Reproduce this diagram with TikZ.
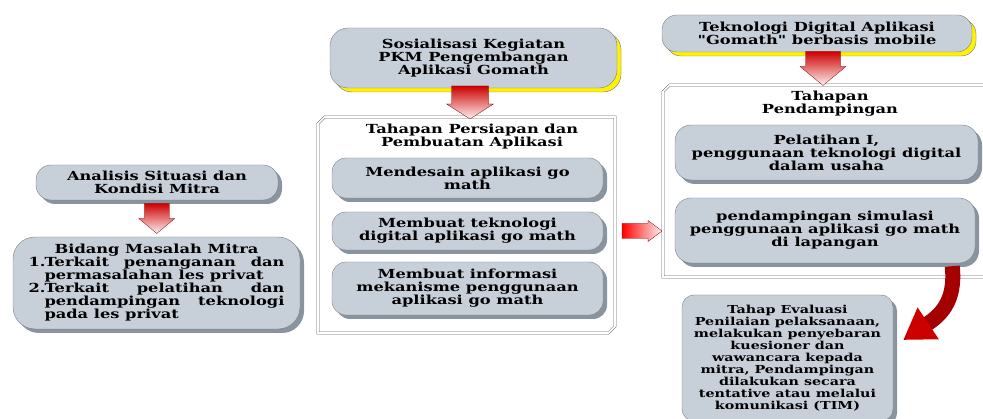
\documentclass[tikz,border=0pt]{standalone}
\usepackage{fontspec}
\setmainfont{DejaVu Serif}[FakeStretch = 1.3, Ligatures = TeXOff]
\usetikzlibrary{shapes.misc,shadows,calc,arrows.meta}
\definecolor{boxfill}{RGB}{199,207,216}
\definecolor{boxline}{RGB}{120,128,138}
\definecolor{shadowgray}{RGB}{138,148,158}
\definecolor{arrred}{RGB}{205,0,0}

\begin{document}
\begin{tikzpicture}
[x = 1pt, y = -1pt,
 txt/.style = {font = \bfseries\fontsize{12.5}{13}\selectfont, align = center},
 box/.style = {txt, draw = boxline, fill = boxfill, rounded corners = 14pt, inner sep = 2pt,
   general shadow = {fill = shadowgray, shadow xshift = 4pt, shadow yshift = -4pt}},
 topbox/.style = {box, general shadow = {fill = yellow, draw = boxline, shadow xshift = 4pt, shadow yshift = -4pt}},
 frame/.style = {chamfered rectangle, chamfered rectangle corners = {north west, south east},
   chamfered rectangle xsep = 7pt, chamfered rectangle ysep = 7pt,
   draw = black!60, double = white, double distance = 1.6pt, line width = 0.5pt},
 blockdown/.style = {draw = red!50!black, line width = 0.3pt,
   top color = red!80!black, middle color = red, bottom color = red!5},
 blockright/.style = {draw = red!50!black, line width = 0.3pt,
   left color = red, right color = red!5},
 curvearr/.style = {arrred!80!black, line width = 15pt, -{Triangle[width = 36pt, length = 30pt, color = arrred]}}
 ]
\useasboundingbox (0,0) rectangle (983,419);

% containers
\node [frame, minimum width = 297, minimum height = 216] (fr1) at (466.5,225) {};
\node [frame, minimum width = 332, minimum height = 192] (fr2) at (829,181) {};

% left column
\node [box, minimum width = 242, minimum height = 35, rounded corners = 15pt] (anal) at (157,182.5)
  {Analisis Situasi dan\\Kondisi Mitra};
\node [box, minimum width = 287, minimum height = 92, rounded corners = 22pt] (masalah) at (156.5,283)
  {\parbox{256pt}{{\centering Bidang Masalah Mitra\par}
   \hangindent = 16pt \hangafter = 1 \noindent\makebox[16pt][l]{1.}Terkait penanganan dan\linebreak permasalahan les privat\par
   \hangindent = 16pt \hangafter = 1 \noindent\makebox[16pt][l]{2.}Terkait pelatihan dan\linebreak pendampingan teknologi\linebreak pada les privat}};

% middle column
\node [topbox, minimum width = 287, minimum height = 60, rounded corners = 18pt] (sos) at (473.5,58)
  {Sosialisasi Kegiatan\\PKM Pengembangan\\Aplikasi Gomath};
\node [txt] (t1) at (472,136.5) {Tahapan Persiapan dan\\Pembuatan Aplikasi};
\node [box, minimum width = 271, minimum height = 40] (m1) at (467.5,178) {Mendesain aplikasi go\\math};
\node [box, minimum width = 271, minimum height = 38] (m2) at (467.5,231) {Membuat teknologi\\digital aplikasi go math};
\node [box, minimum width = 271, minimum height = 53] (m3) at (467.5,288.5) {Membuat informasi\\mekanisme penggunaan\\aplikasi go math};

% right column
\node [topbox, minimum width = 310, minimum height = 37, rounded corners = 15pt] (tek) at (817,33.5)
  {Teknologi Digital Aplikasi\\"Gomath" berbasis mobile};
\node [txt] (t2) at (830,103.5) {Tahapan\\Pendampingan};
\node [box, minimum width = 303, minimum height = 55, rounded corners = 16pt] (p1) at (826.5,152.5)
  {Pelatihan I,\\penggunaan teknologi digital\\dalam usaha};
\node [box, minimum width = 300, minimum height = 65, rounded corners = 16pt] (p2) at (825,230.5)
  {pendampingan simulasi\\penggunaan aplikasi go math\\di lapangan};
\node [box, minimum width = 211, minimum height = 126, rounded corners = 12pt, font = \bfseries\fontsize{11}{12}\selectfont] (eval) at (787.5,358)
  {Tahap Evaluasi\\Penilaian pelaksanaan,\\melakukan penyebaran\\kuesioner dan\\wawancara kepada\\mitra, Pendampingan\\dilakukan secara\\tentative atau melalui\\komunikasi (TIM)};

% block arrows
\coordinate (a1) at ($(anal.south)!0.5!(masalah.north)$);
\draw [blockdown] (a1) ++(-12.5,-15) -- ++(25,0) -- ++(0,15) -- ++(5.5,0) -- ++(-18,15) -- ++(-18,-15) -- ++(5.5,0) -- cycle;
\coordinate (a2) at ($(sos.south)!0.5!(fr1.north)$);
\draw [blockdown] (a2) ++(-18.5,-16.5) -- ++(37,0) -- ++(0,18) -- ++(5,0) -- ++(-23.5,15) -- ++(-23.5,-15) -- ++(5,0) -- cycle;
\coordinate (a3) at ($(tek.south)!0.5!(fr2.north)$);
\draw [blockdown] (a3) ++(-17.5,-17) -- ++(35,0) -- ++(0,15) -- ++(5.5,0) -- ++(-23,19) -- ++(-23,-19) -- ++(5.5,0) -- cycle;
\coordinate (mid) at ($(fr1.east)!0.5!(fr2.west)$);
\coordinate (a4) at (mid |- m2.center);
\draw [blockright] (a4) ++(-17,-7.5) -- ++(26,0) -- ++(0,-3) -- ++(14,10.5) -- ++(-14,10.5) -- ++(0,-3) -- ++(-26,0) -- cycle;

% curved arrow to evaluation
\draw [curvearr] ([xshift = -23pt, yshift = -3pt]p2.south east)
  .. controls +(4,36) and +(36,-24) .. ([xshift = 10pt, yshift = 18pt]eval.east);
\end{tikzpicture}
\end{document}
